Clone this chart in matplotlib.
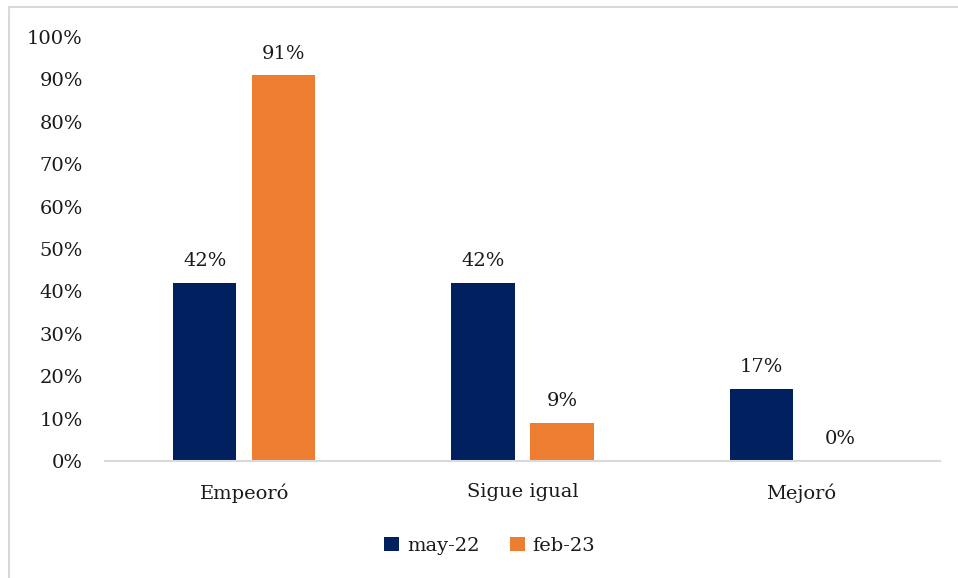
import matplotlib
matplotlib.use("Agg")
import matplotlib.pyplot as plt
import numpy as np
from matplotlib.patches import Rectangle

categories = ["Empeoró", "Sigue igual", "Mejoró"]
series_names = ["may-22", "feb-23"]
may_22 = [42, 42, 17]
feb_23 = [91, 9, 0]
y_ticks = [0, 10, 20, 30, 40, 50, 60, 70, 80, 90, 100]

navy = "#002060"
orange = "#ED7D31"

plt.rcParams["font.family"] = ["DejaVu Serif"]
plt.rcParams["font.size"] = 14

fig = plt.figure(figsize=(9.58, 5.78), dpi=100)
ax = fig.add_axes([105 / 958, 1 - 461 / 578, 835 / 958, 424 / 578])

x = np.arange(len(categories))
width = 0.227
offset = 0.142

b1 = ax.bar(x - offset, may_22, width, color=navy, label=series_names[0])
b2 = ax.bar(x + offset, feb_23, width, color=orange, label=series_names[1])

for bars, vals in ((b1, may_22), (b2, feb_23)):
    for rect, v in zip(bars, vals):
        ax.annotate(f"{v}%", (rect.get_x() + rect.get_width() / 2, v),
                    xytext=(0, 9), textcoords="offset points",
                    ha="center", va="bottom", fontsize=14, color="#1a1a1a")

ax.set_xlim(-0.5, 2.5)
ax.set_ylim(0, 100)
ax.set_yticks(y_ticks)
ax.set_yticklabels([f"{t}%" for t in y_ticks])
ax.set_xticks(x)
ax.set_xticklabels(categories)
ax.tick_params(axis="y", length=0, pad=16, labelcolor="#1a1a1a")
ax.tick_params(axis="x", length=0, pad=16, labelcolor="#1a1a1a")

for side in ("left", "right", "top"):
    ax.spines[side].set_visible(False)
ax.spines["bottom"].set_color("#D9D9D9")
ax.spines["bottom"].set_linewidth(1.5)

leg = fig.legend(handles=[b1, b2], loc="center", bbox_to_anchor=(490 / 958, 1 - 546 / 578),
                 ncol=2, frameon=False, handlelength=0.75, handleheight=0.75,
                 handletextpad=0.4, columnspacing=1.6, fontsize=14)
for t in leg.get_texts():
    t.set_color("#1a1a1a")

# light outer frame of the chart area
fig.patches.append(Rectangle((8.5 / 958, -0.1), 1.2, 1.1 - 7.5 / 578,
                             transform=fig.transFigure, fill=False,
                             edgecolor="#D9D9D9", linewidth=1.5))

fig.savefig("out.png", dpi=100)
